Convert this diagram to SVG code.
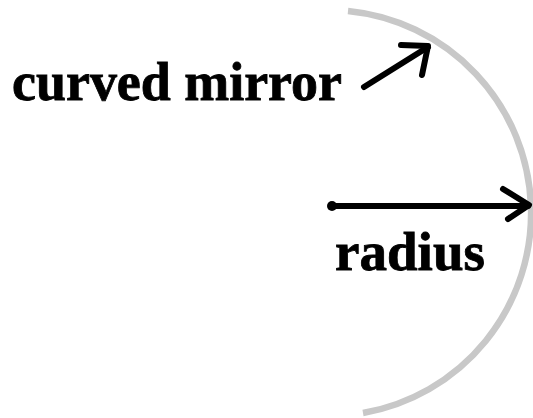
<svg xmlns="http://www.w3.org/2000/svg" width="533" height="418" viewBox="0 0 533 418">
<style>
.lbl{font-family:"Liberation Serif","Times New Roman",serif;font-weight:bold;font-size:54px;fill:#000;stroke:#000;stroke-width:0.8}
.arr{stroke:#000;stroke-width:6;fill:none;stroke-linecap:round;stroke-linejoin:round}
</style>
<rect width="533" height="418" fill="#fff"/>
<g id="mirror">
<path d="M348,11 A203,203 0 0 1 363,413" fill="none" stroke="#c8c8c8" stroke-width="6.5"/>
</g>
<g id="label-mirror">
<text class="lbl" x="12" y="100" textLength="330" lengthAdjust="spacingAndGlyphs">curved mirror</text>
</g>
<g id="label-radius">
<text class="lbl" x="335" y="270" textLength="150" lengthAdjust="spacingAndGlyphs">radius</text>
</g>
<g id="connectors">
<path class="arr" d="M364,87 L428,47"/>
<path class="arr" d="M401,45 L428,46 L422,75"/>
<circle cx="332" cy="206" r="5" fill="#000"/>
<path class="arr" d="M332,206 L528,206"/>
<path class="arr" d="M503,189 L529,205 L508,219"/>
</g>
</svg>
